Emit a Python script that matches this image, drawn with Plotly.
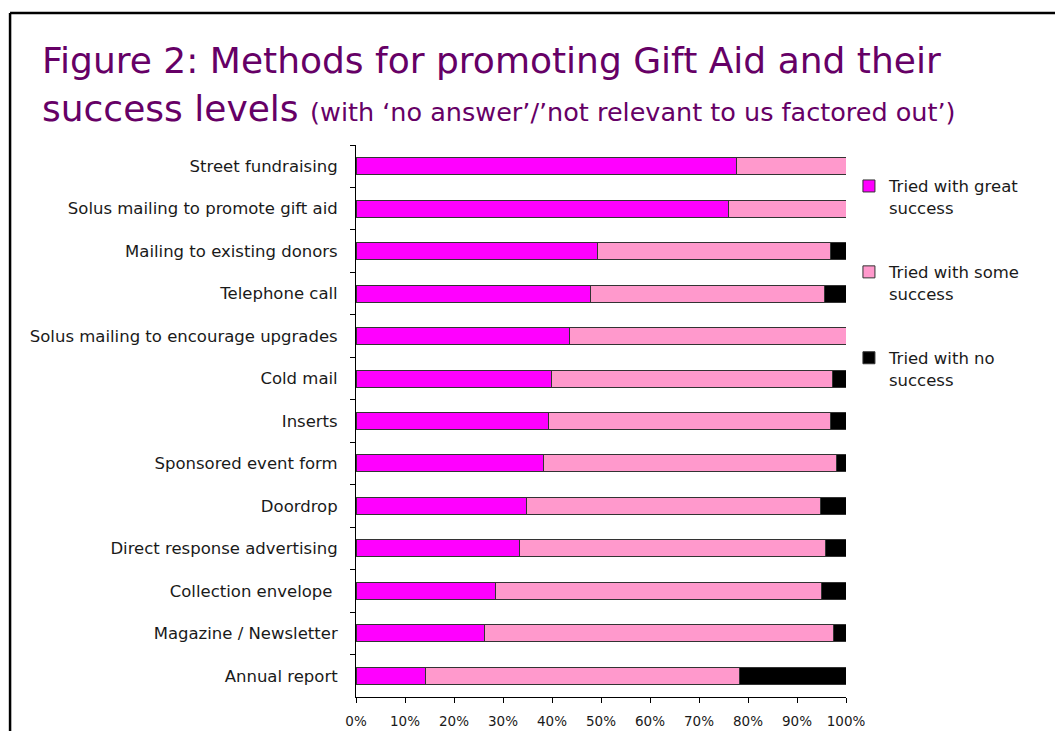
import plotly.graph_objects as go

# Methods, top to bottom
methods = [
    "Street fundraising",
    "Solus mailing to promote gift aid",
    "Mailing to existing donors",
    "Telephone call",
    "Solus mailing to encourage upgrades",
    "Cold mail",
    "Inserts",
    "Sponsored event form",
    "Doordrop",
    "Direct response advertising",
    "Collection envelope ",
    "Magazine / Newsletter",
    "Annual report",
]

# Share of respondents (%) for each outcome
great_success = [77.6, 76.1, 49.3, 47.8, 43.5, 39.8, 39.2, 38.3, 34.8, 33.4, 28.5, 26.2, 14.1]
no_success = [0.0, 0.0, 3.1, 4.3, 0.0, 2.7, 3.1, 1.9, 5.2, 4.1, 5.1, 2.5, 21.7]
some_success = [round(100 - g - n, 1) for g, n in zip(great_success, no_success)]

series = [
    ("Tried with great<br>success", great_success, "#FF00FF"),
    ("Tried with some<br>success", some_success, "#FF99CC"),
    ("Tried with no<br>success", no_success, "#000000"),
]

TITLE_COLOR = "#660066"
TEXT_COLOR = "#1a1a1a"

fig = go.Figure()
for i, (name, vals, color) in enumerate(series):
    fig.add_trace(go.Bar(
        y=methods,
        x=vals,
        name=name,
        orientation="h",
        legendgroup=f"g{i}",
        marker=dict(color=color, line=dict(color="#333333", width=1)),
        hovertemplate="%{y}: %{x:.1f}%<extra></extra>",
    ))

fig.update_layout(
    barmode="stack",
    bargap=0.6,
    width=1055,
    height=731,
    margin=dict(l=356, r=209, t=145, b=34, autoexpand=False),
    paper_bgcolor="white",
    plot_bgcolor="white",
    font=dict(family="DejaVu Sans", color=TEXT_COLOR, size=15),
    showlegend=True,
    legend=dict(
        x=1.006, y=0.957, xanchor="left", yanchor="top",
        valign="top",
        tracegroupgap=40,
        font=dict(size=16.5, color=TEXT_COLOR),
        bgcolor="rgba(0,0,0,0)",
    ),
    xaxis=dict(
        range=[0, 100],
        dtick=10,
        ticksuffix="%",
        showgrid=False,
        zeroline=False,
        showline=True,
        linecolor="#000000",
        linewidth=1,
        ticks="outside",
        ticklen=5,
        tickcolor="#000000",
        ticklabelstandoff=7,
        tickfont=dict(size=13.5, color=TEXT_COLOR),
        automargin=False,
        fixedrange=True,
    ),
    yaxis=dict(
        categoryorder="array",
        categoryarray=methods,
        autorange="reversed",
        showgrid=False,
        showline=True,
        linecolor="#000000",
        linewidth=1,
        ticks="outside",
        tickson="boundaries",
        ticklen=5,
        tickcolor="#000000",
        ticklabelstandoff=14,
        tickfont=dict(size=16.5, color=TEXT_COLOR),
        automargin=False,
        fixedrange=True,
    ),
)

# Title block
fig.add_annotation(
    text="Figure 2: Methods for promoting Gift Aid and their",
    xref="paper", yref="paper", x=-0.645, y=1.153,
    xanchor="left", yanchor="middle", showarrow=False,
    font=dict(size=36, color=TITLE_COLOR, family="DejaVu Sans"),
)
fig.add_annotation(
    text="success levels <span style='font-size:25.5px'>(with \u2018no answer\u2019/\u2019not relevant to us factored out\u2019)</span>",
    xref="paper", yref="paper", x=-0.645, y=1.067,
    xanchor="left", yanchor="middle", showarrow=False,
    font=dict(size=36, color=TITLE_COLOR, family="DejaVu Sans"),
)

# Frame lines along the top and left edges
fig.add_shape(type="line", xref="paper", yref="paper",
              x0=-0.706, x1=1.5, y0=1.239, y1=1.239,
              line=dict(color="#000000", width=2.5))
fig.add_shape(type="line", xref="paper", yref="paper",
              x0=-0.706, x1=-0.706, y0=1.239, y1=-0.12,
              line=dict(color="#000000", width=2.5))

fig.write_html("out.html")
